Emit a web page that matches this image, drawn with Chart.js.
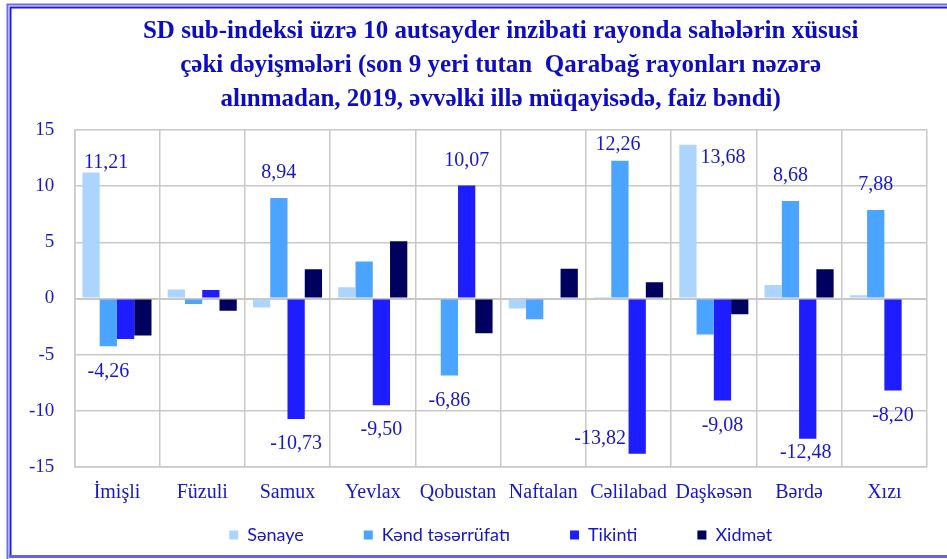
<!DOCTYPE html>
<html>
<head>
<meta charset="utf-8">
<script src="https://cdn.jsdelivr.net/npm/chart.js@4/dist/chart.umd.min.js"></script>
<style>
  html, body { margin: 0; padding: 0; background: #ffffff; }
  #wrap { width: 947px; height: 559px; }
</style>
</head>
<body>
<div id="wrap"><canvas id="c" width="947" height="559"></canvas></div>
<script>
// ---- data ----
const categories = ['İmişli', 'Füzuli', 'Samux', 'Yevlax', 'Qobustan', 'Naftalan', 'Cəlilabad', 'Daşkəsən', 'Bərdə', 'Xızı'];
const seriesNames = ['Sənaye', 'Kənd təsərrüfatı', 'Tikinti', 'Xidmət'];
const senaye  = [11.21, 0.8, -0.8, 1.0, 0, -0.9, 0.05, 13.68, 1.2, 0.3];
const kend    = [-4.26, -0.5, 8.94, 3.3, -6.86, -1.85, 12.26, -3.2, 8.68, 7.88];
const tikinti = [-3.6, 0.75, -10.73, -9.50, 10.07, 0.1, -13.82, -9.08, -12.48, -8.20];
const xidmet  = [-3.3, -1.1, 2.6, 5.1, -3.1, 2.65, 1.45, -1.4, 2.6, 0];
// which values carry a printed label (1 = shown)
const labelSenaye  = [1, 0, 0, 0, 0, 0, 0, 1, 0, 0];
const labelKend    = [1, 0, 1, 0, 1, 0, 1, 0, 1, 1];
const labelTikinti = [0, 0, 1, 1, 1, 0, 1, 1, 1, 1];
const labelXidmet  = [0, 0, 0, 0, 0, 0, 0, 0, 0, 0];
const yTicks = [-15, -10, -5, 0, 5, 10, 15];
const titleLines = [
  'SD sub-indeksi üzrə 10 autsayder inzibati rayonda sahələrin xüsusi',
  'çəki dəyişmələri (son 9 yeri tutan  Qarabağ rayonları nəzərə',
  'alınmadan, 2019, əvvəlki illə müqayisədə, faiz bəndi)'
];

// ---- styles ----
const colors = ['#abd5ff', '#4ba4ff', '#1d1dff', '#00005e'];
const textBlue = '#1717c8';
const gridGrey = '#c8c8c8';
const serif = "'Liberation Serif', 'DejaVu Serif', serif";
const seriesValues = [senaye, kend, tikinti, xidmet];
const seriesLabelMask = [labelSenaye, labelKend, labelTikinti, labelXidmet];
// label placement tweaks relative to bar end: [dx, dy]
const labelTweaks = {
  '0-0': [15, -10], '0-7': [35, 13],
  '1-6': [-2, -16],
  '2-6': [-37, -15], '2-8': [-2, 14]
};

const framePlugin = {
  id: 'frame',
  beforeDraw(chart) {
    const ctx = chart.ctx;
    ctx.save();
    ctx.fillStyle = '#ffffff';
    ctx.fillRect(0, 0, chart.width, chart.height);
    ctx.lineWidth = 2;
    ctx.strokeStyle = '#6b6bf0';
    ctx.beginPath();
    ctx.moveTo(7.5, 560); ctx.lineTo(7.5, 4.5); ctx.lineTo(960, 4.5);
    ctx.stroke();
    ctx.strokeStyle = '#1c1ce6';
    ctx.beginPath();
    ctx.moveTo(10.5, 556); ctx.lineTo(10.5, 7.5); ctx.lineTo(960, 7.5);
    ctx.stroke();
    ctx.lineWidth = 3;
    ctx.strokeStyle = '#6262e2';
    ctx.beginPath();
    ctx.moveTo(9, 556.5); ctx.lineTo(960, 556.5);
    ctx.stroke();
    ctx.restore();
  }
};

const valueLabelPlugin = {
  id: 'valueLabels',
  afterDatasetsDraw(chart) {
    const ctx = chart.ctx;
    ctx.save();
    ctx.font = "20px " + serif;
    ctx.fillStyle = textBlue;
    ctx.textAlign = 'center';
    ctx.textBaseline = 'middle';
    chart.data.datasets.forEach((ds, i) => {
      const meta = chart.getDatasetMeta(i);
      meta.data.forEach((el, j) => {
        if (!seriesLabelMask[i][j]) return;
        const v = ds.data[j];
        const t = labelTweaks[i + '-' + j];
        let dx = 0, dy = v >= 0 ? -25 : 25;
        if (t) { dx = t[0]; dy = t[1]; }
        const txt = v.toFixed(2).replace('.', ',');
        ctx.fillText(txt, el.x + dx, el.y + dy);
      });
    });
    ctx.restore();
  }
};

const legendShiftPlugin = {
  id: 'legendShift',
  afterLayout(chart) {
    const lg = chart.legend;
    if (lg) { lg.top = 535 - 9 - lg.options.labels.padding; }
  }
};

new Chart(document.getElementById('c'), {
  type: 'bar',
  data: {
    labels: categories,
    datasets: seriesNames.map((name, i) => ({
      label: name,
      data: seriesValues[i],
      backgroundColor: colors[i],
      borderWidth: 0,
      categoryPercentage: 0.81,
      barPercentage: 1.0
    }))
  },
  options: {
    responsive: false,
    animation: false,
    devicePixelRatio: 1,
    layout: { padding: { left: 9, right: 20, top: 0, bottom: 5 } },
    scales: {
      x: {
        grid: { offset: true, color: gridGrey, lineWidth: 1.5, drawTicks: false },
        border: { color: gridGrey, width: 1.5 },
        ticks: { color: textBlue, font: { family: serif, size: 20 }, padding: 14, maxRotation: 0, autoSkip: false }
      },
      y: {
        min: -15, max: 15,
        afterBuildTicks(scale) { scale.ticks = yTicks.map(v => ({ value: v })); },
        grid: { color: gridGrey, lineWidth: (c) => c.tick && c.tick.value === 0 ? 2 : 1.5, drawTicks: false },
        border: { color: gridGrey, width: 1.5 },
        ticks: { color: textBlue, font: { family: serif, size: 19 }, padding: 20 }
      }
    },
    plugins: {
      title: {
        display: true,
        text: titleLines,
        fullSize: false,
        color: '#0c0cc4',
        font: { family: serif, size: 25, weight: 'bold', lineHeight: 1.36 },
        padding: { top: 15, bottom: 13 }
      },
      legend: {
        position: 'bottom',
        fullSize: false,
        maxHeight: 35,
        labels: {
          boxWidth: 9, boxHeight: 9, padding: 60,
          color: textBlue,
          font: { family: "Lato, 'Noto Sans', sans-serif", size: 18 }
        }
      },
      tooltip: { enabled: false }
    }
  },
  plugins: [framePlugin, valueLabelPlugin, legendShiftPlugin]
});
</script>
</body>
</html>
